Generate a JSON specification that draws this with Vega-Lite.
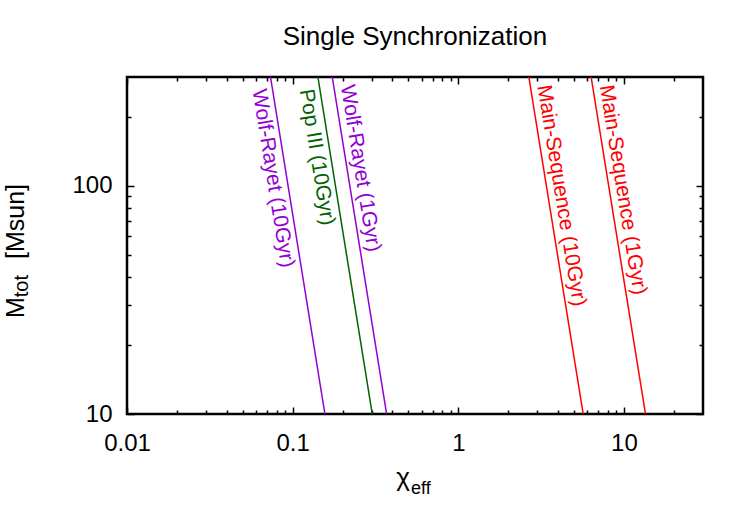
{
  "$schema": "https://vega.github.io/schema/vega-lite/v6.json",
  "width": 576,
  "height": 337,
  "autosize": {"type": "none"},
  "padding": {"left": 127, "top": 77, "right": 47, "bottom": 111},
  "background": "white",
  "title": {
    "text": "Single Synchronization",
    "font": "Liberation Sans",
    "fontSize": 26,
    "fontWeight": "normal",
    "color": "black",
    "anchor": "middle",
    "baseline": "alphabetic",
    "offset": 5
  },
  "config": {
    "font": "Liberation Sans",
    "view": {"stroke": "black", "strokeWidth": 2.5},
    "axis": {
      "domain": false,
      "grid": false,
      "tickColor": "black",
      "tickWidth": 1.5,
      "labelColor": "black",
      "labelFont": "Liberation Sans",
      "labelFontSize": 24,
      "labelFlush": false,
      "labelOverlap": false,
      "labelBound": false
    }
  },
  "datasets": {
    "curves": [
      {"series": "WR10", "chi": 0.1566, "mtot": 10},
      {"series": "WR10", "chi": 0.0735, "mtot": 300},
      {"series": "PopIII", "chi": 0.3024, "mtot": 10},
      {"series": "PopIII", "chi": 0.1420, "mtot": 300},
      {"series": "WR1", "chi": 0.3693, "mtot": 10},
      {"series": "WR1", "chi": 0.1734, "mtot": 300},
      {"series": "MS10", "chi": 5.675, "mtot": 10},
      {"series": "MS10", "chi": 2.665, "mtot": 300},
      {"series": "MS1", "chi": 13.49, "mtot": 10},
      {"series": "MS1", "chi": 6.335, "mtot": 300}
    ],
    "labels": [
      {"series": "WR10", "side": "left", "chi": 0.07523, "mtot": 271, "text": "Wolf-Rayet (10Gyr)"},
      {"series": "PopIII", "side": "left", "chi": 0.14527, "mtot": 271, "text": "Pop III (10Gyr)"},
      {"series": "WR1", "side": "right", "chi": 0.17741, "mtot": 271, "text": "Wolf-Rayet (1Gyr)"},
      {"series": "MS10", "side": "right", "chi": 2.7263, "mtot": 271, "text": "Main-Sequence (10Gyr)"},
      {"series": "MS1", "side": "right", "chi": 6.4806, "mtot": 271, "text": "Main-Sequence (1Gyr)"}
    ]
  },
  "layer": [
    {
      "data": {"name": "curves"},
      "mark": {"type": "line", "strokeWidth": 1.5, "clip": true},
      "encoding": {
        "x": {
          "field": "chi", "type": "quantitative",
          "scale": {"type": "log", "domain": [0.01, 30], "nice": false},
          "axis": {
            "orient": "bottom",
            "title": null,
            "values": [0.01,0.02,0.03,0.04,0.05,0.06,0.07,0.08,0.09,0.1,0.2,0.3,0.4,0.5,0.6,0.7,0.8,0.9,1,2,3,4,5,6,7,8,9,10,20],
            "labelExpr": "abs(log(datum.value)/LN10 - round(log(datum.value)/LN10)) < 0.001 ? format(datum.value, '~g') : ''",
            "tickSize": {"condition": {"test": "abs(log(datum.value)/LN10 - round(log(datum.value)/LN10)) < 0.001", "value": -7}, "value": -4},
            "labelPadding": 24
          }
        },
        "y": {
          "field": "mtot", "type": "quantitative",
          "scale": {"type": "log", "domain": [10, 300], "nice": false},
          "axis": {
            "orient": "left",
            "title": null,
            "values": [10,20,30,40,50,60,70,80,90,100,200],
            "labelExpr": "abs(log(datum.value)/LN10 - round(log(datum.value)/LN10)) < 0.001 ? format(datum.value, '~g') : ''",
            "tickSize": {"condition": {"test": "abs(log(datum.value)/LN10 - round(log(datum.value)/LN10)) < 0.001", "value": -7}, "value": -4},
            "labelPadding": 22
          }
        },
        "color": {
          "field": "series", "type": "nominal",
          "scale": {"domain": ["WR10", "PopIII", "WR1", "MS10", "MS1"], "range": ["#9400d3", "#006400", "#9400d3", "#ff0000", "#ff0000"]},
          "legend": null
        },
        "detail": {"field": "series"}
      }
    },
    {
      "data": {"name": "labels"},
      "transform": [{"filter": "datum.side === 'left'"}],
      "mark": {"type": "text", "angle": 80.8, "align": "left", "baseline": "top", "dy": 3, "fontSize": 21, "font": "Liberation Sans"},
      "encoding": {
        "x": {
          "field": "chi", "type": "quantitative",
          "scale": {"type": "log", "domain": [0.01, 30], "nice": false},
          "axis": {
            "orient": "top",
            "title": null,
            "labels": false,
            "values": [0.01,0.02,0.03,0.04,0.05,0.06,0.07,0.08,0.09,0.1,0.2,0.3,0.4,0.5,0.6,0.7,0.8,0.9,1,2,3,4,5,6,7,8,9,10,20],
            "tickSize": {"condition": {"test": "abs(log(datum.value)/LN10 - round(log(datum.value)/LN10)) < 0.001", "value": -7}, "value": -4}
          }
        },
        "y": {
          "field": "mtot", "type": "quantitative",
          "scale": {"type": "log", "domain": [10, 300], "nice": false},
          "axis": {
            "orient": "right",
            "title": null,
            "labels": false,
            "values": [10,20,30,40,50,60,70,80,90,100,200],
            "tickSize": {"condition": {"test": "abs(log(datum.value)/LN10 - round(log(datum.value)/LN10)) < 0.001", "value": -7}, "value": -4}
          }
        },
        "text": {"field": "text"},
        "color": {
          "field": "series", "type": "nominal",
          "scale": {"domain": ["WR10", "PopIII", "WR1", "MS10", "MS1"], "range": ["#9400d3", "#006400", "#9400d3", "#ff0000", "#ff0000"]},
          "legend": null
        }
      }
    },
    {
      "data": {"name": "labels"},
      "transform": [{"filter": "datum.side === 'right'"}],
      "mark": {"type": "text", "angle": 80.8, "align": "left", "baseline": "bottom", "dy": -3, "fontSize": 21, "font": "Liberation Sans"},
      "encoding": {
        "x": {"field": "chi", "type": "quantitative", "scale": {"type": "log", "domain": [0.01, 30], "nice": false}, "axis": null},
        "y": {"field": "mtot", "type": "quantitative", "scale": {"type": "log", "domain": [10, 300], "nice": false}, "axis": null},
        "text": {"field": "text"},
        "color": {
          "field": "series", "type": "nominal",
          "scale": {"domain": ["WR10", "PopIII", "WR1", "MS10", "MS1"], "range": ["#9400d3", "#006400", "#9400d3", "#ff0000", "#ff0000"]},
          "legend": null
        }
      }
    },
    {
      "data": {"values": [{"label": "χ"}]},
      "mark": {"type": "text", "align": "center", "baseline": "alphabetic", "dy": 72, "fontSize": 26, "color": "black"},
      "encoding": {
        "x": {"datum": 0.4636, "type": "quantitative", "scale": {"type": "log", "domain": [0.01, 30], "nice": false}, "axis": null},
        "y": {"datum": 10, "type": "quantitative", "scale": {"type": "log", "domain": [10, 300], "nice": false}, "axis": null},
        "text": {"field": "label"}
      }
    },
    {
      "data": {"values": [{"label": "eff"}]},
      "mark": {"type": "text", "align": "left", "baseline": "alphabetic", "dy": 80, "fontSize": 18, "color": "black"},
      "encoding": {
        "x": {"datum": 0.518, "type": "quantitative", "scale": {"type": "log", "domain": [0.01, 30], "nice": false}, "axis": null},
        "y": {"datum": 10, "type": "quantitative", "scale": {"type": "log", "domain": [10, 300], "nice": false}, "axis": null},
        "text": {"field": "label"}
      }
    },
    {
      "data": {"values": [{"label": "M"}]},
      "mark": {"type": "text", "angle": 270, "align": "left", "baseline": "alphabetic", "dy": -103, "fontSize": 25, "color": "black"},
      "encoding": {
        "x": {"datum": 0.01, "type": "quantitative", "scale": {"type": "log", "domain": [0.01, 30], "nice": false}, "axis": null},
        "y": {"datum": 26.35, "type": "quantitative", "scale": {"type": "log", "domain": [10, 300], "nice": false}, "axis": null},
        "text": {"field": "label"}
      }
    },
    {
      "data": {"values": [{"label": "tot"}]},
      "mark": {"type": "text", "angle": 270, "align": "left", "baseline": "alphabetic", "dy": -99, "fontSize": 20, "color": "black"},
      "encoding": {
        "x": {"datum": 0.01, "type": "quantitative", "scale": {"type": "log", "domain": [0.01, 30], "nice": false}, "axis": null},
        "y": {"datum": 32.5, "type": "quantitative", "scale": {"type": "log", "domain": [10, 300], "nice": false}, "axis": null},
        "text": {"field": "label"}
      }
    },
    {
      "data": {"values": [{"label": "[Msun]"}]},
      "mark": {"type": "text", "angle": 270, "align": "left", "baseline": "alphabetic", "dy": -103, "fontSize": 25, "color": "black"},
      "encoding": {
        "x": {"datum": 0.01, "type": "quantitative", "scale": {"type": "log", "domain": [0.01, 30], "nice": false}, "axis": null},
        "y": {"datum": 47.8, "type": "quantitative", "scale": {"type": "log", "domain": [10, 300], "nice": false}, "axis": null},
        "text": {"field": "label"}
      }
    }
  ],
  "resolve": {"axis": {"x": "independent", "y": "independent"}}
}
